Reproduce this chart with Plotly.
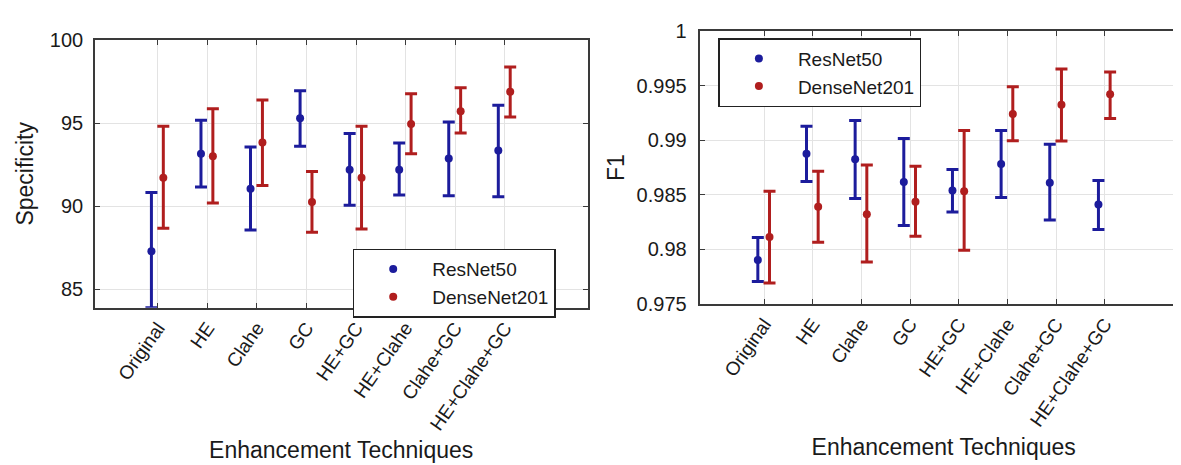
import plotly.graph_objects as go

categories = ["Original", "HE", "Clahe", "GC", "HE+GC", "HE+Clahe", "Clahe+GC", "HE+Clahe+GC"]

spec_resnet_mean = [87.30, 93.16, 91.05, 95.29, 92.20, 92.20, 92.87, 93.35]
spec_resnet_upper = [90.82, 95.17, 93.57, 96.94, 94.37, 93.80, 95.06, 96.08]
spec_resnet_lower = [83.90, 91.16, 88.57, 93.61, 90.06, 90.68, 90.63, 90.57]

spec_dense_mean = [91.71, 93.00, 93.84, 90.25, 91.71, 94.94, 95.72, 96.88]
spec_dense_upper = [94.81, 95.86, 96.39, 92.09, 94.81, 96.77, 97.13, 98.38]
spec_dense_lower = [88.67, 90.19, 91.24, 88.44, 88.63, 93.16, 94.41, 95.36]

f1_resnet_mean = [0.97903, 0.98877, 0.98827, 0.98619, 0.98540, 0.98783, 0.98610, 0.98411]
f1_resnet_upper = [0.98109, 0.99129, 0.99182, 0.99018, 0.98733, 0.99091, 0.98965, 0.98631]
f1_resnet_lower = [0.97704, 0.98622, 0.98466, 0.98220, 0.98343, 0.98475, 0.98270, 0.98182]

f1_dense_mean = [0.98114, 0.98390, 0.98323, 0.98437, 0.98534, 0.99243, 0.99326, 0.99422]
f1_dense_upper = [0.98534, 0.98716, 0.98774, 0.98762, 0.99091, 0.99493, 0.99654, 0.99628]
f1_dense_lower = [0.97692, 0.98065, 0.97883, 0.98120, 0.97991, 0.98997, 0.98994, 0.99200]

spec_ticks = [85, 90, 95, 100]
f1_ticks = [0.975, 0.98, 0.985, 0.99, 0.995, 1.0]
f1_ticktext = ["0.975", "0.98", "0.985", "0.99", "0.995", "1"]

BLUE = "#1c1c9c"
RED = "#b01e1e"
FONT = "Arial, Liberation Sans, sans-serif"
TXT = "#1a1a1a"
W, H = 1181, 465

idx = list(range(len(categories)))
off_b, off_r = -0.13, 0.11

fig = go.Figure()


def add_series(mean, upper, lower, color, name, xaxis, yaxis, offset, legend):
    fig.add_trace(go.Scatter(
        x=[i + offset for i in idx], y=mean, mode="markers", name=name,
        marker=dict(color=color, size=8, symbol="circle"),
        error_y=dict(type="data", symmetric=False,
                     array=[u - m for u, m in zip(upper, mean)],
                     arrayminus=[m - l for m, l in zip(mean, lower)],
                     color=color, thickness=3, width=6),
        xaxis=xaxis, yaxis=yaxis, legend=legend,
        cliponaxis=True,
    ))


add_series(spec_resnet_mean, spec_resnet_upper, spec_resnet_lower, BLUE, "ResNet50", "x", "y", off_b, "legend")
add_series(spec_dense_mean, spec_dense_upper, spec_dense_lower, RED, "DenseNet201", "x", "y", off_r, "legend")
add_series(f1_resnet_mean, f1_resnet_upper, f1_resnet_lower, BLUE, "ResNet50", "x2", "y2", off_b, "legend2")
add_series(f1_dense_mean, f1_dense_upper, f1_dense_lower, RED, "DenseNet201", "x2", "y2", off_r, "legend2")


def px_x(p):
    return p / W


def px_y(p):
    return (H - p) / H


axis_common = dict(
    showline=True, linecolor="#3a3a3a", linewidth=1.5, mirror="ticks",
    ticks="inside", ticklen=5, tickcolor="#3a3a3a", tickwidth=1,
    showgrid=True, gridcolor="#e3e3e3", gridwidth=1, zeroline=False,
    tickfont=dict(family=FONT, size=20, color=TXT),
)

xcommon = dict(axis_common, tickmode="array", tickvals=idx, ticktext=categories, tickangle=-55,
               tickfont=dict(family=FONT, size=19, color=TXT),
               title=dict(text="Enhancement Techniques", font=dict(family=FONT, size=23, color=TXT), standoff=9))

legend_common = dict(xanchor="left", yanchor="top",
                     bgcolor="white", bordercolor="#222222", borderwidth=1.5,
                     font=dict(family=FONT, size=19, color=TXT), itemwidth=68,
                     tracegroupgap=0)

fig.update_layout(
    width=W, height=H, autosize=False,
    margin=dict(l=0, r=0, t=0, b=0),
    paper_bgcolor="white", plot_bgcolor="white",
    xaxis=dict(xcommon, domain=[px_x(87), px_x(580)], range=[-1.27, 8.67], anchor="y"),
    yaxis=dict(axis_common, domain=[px_y(303), px_y(22)], range=[83.9, 100], tickvals=spec_ticks,
               ticklabelstandoff=6, anchor="x",
               title=dict(text="Specificity", font=dict(family=FONT, size=23, color=TXT), standoff=10)),
    xaxis2=dict(xcommon, domain=[px_x(693), px_x(1180)], range=[-1.31, 8.69], anchor="y2"),
    yaxis2=dict(axis_common, domain=[px_y(299), px_y(13)], range=[0.975, 1.0], tickvals=f1_ticks,
                ticktext=f1_ticktext, ticklabelstandoff=8, anchor="x2",
                title=dict(text="F1", font=dict(family=FONT, size=23, color=TXT), standoff=6)),
    legend=dict(legend_common, x=px_x(345), y=px_y(241)),
    legend2=dict(legend_common, x=px_x(711), y=px_y(20)),
    showlegend=True,
)

fig.write_html("out.html")
